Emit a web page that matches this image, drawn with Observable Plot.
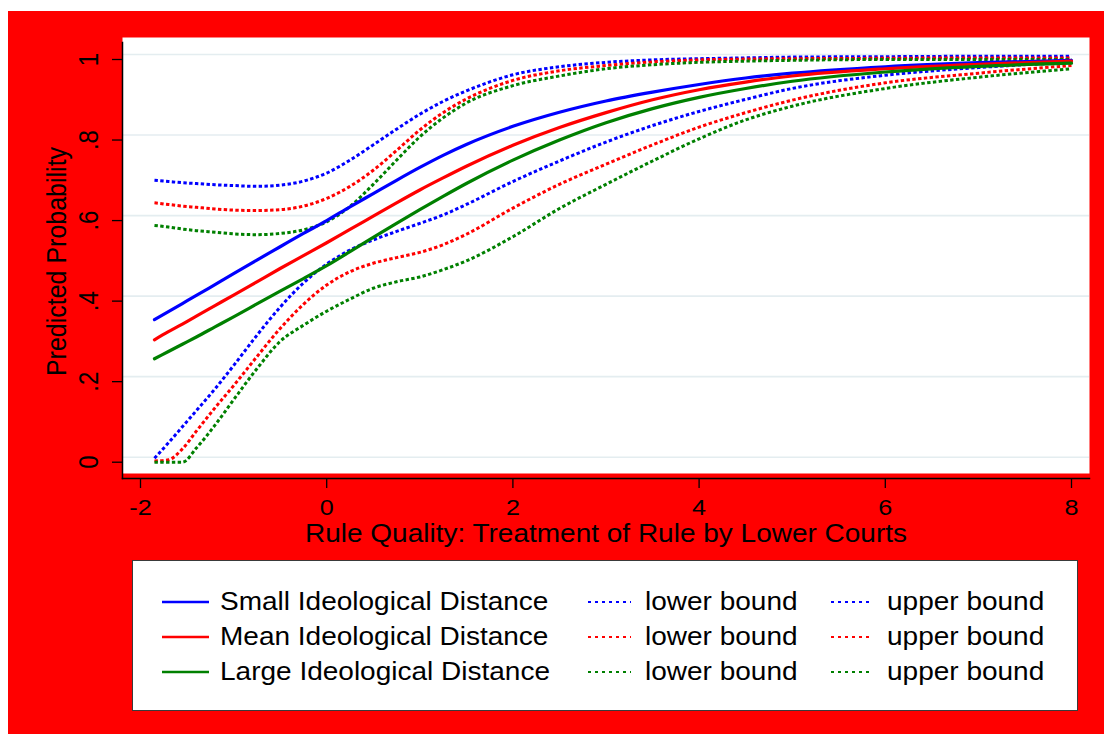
<!DOCTYPE html>
<html>
<head>
<meta charset="utf-8">
<script src="https://cdn.jsdelivr.net/npm/d3@7"></script>
<script src="https://cdn.jsdelivr.net/npm/@observablehq/plot@0.6"></script>
<style>
  html, body { margin: 0; padding: 0; background: #ffffff; }
  #panel { position: absolute; left: 8px; top: 11px; width: 1096px; height: 723px; background: #ff0000; overflow: hidden; }
  #chart { position: absolute; left: 0; top: 0; }
  #legend { position: absolute; left: 124px; top: 549px; width: 944px; height: 149px; background: #ffffff; border: 1px solid #3a3a3a; }
  .lg-text { position: absolute; font-family: "Liberation Sans", Arial, sans-serif; font-size: 25px; line-height: 25px; color: #000; white-space: nowrap; transform: scaleX(1.12); transform-origin: left center; }
  .lg-key { position: absolute; }
</style>
</head>
<body>
<div id="panel">
  <div id="chart"></div>
  <div id="legend"></div>
</div>
<script>
// Rule quality values at which the predictions were evaluated
const xValues = [-1.85, -1.7, -1.55, -1.4, -1.2, -1, -0.75, -0.5, -0.25, 0, 0.25, 0.5, 0.75, 1, 1.25, 1.5, 2, 2.5, 3, 3.5, 4, 4.5, 5, 6, 7, 8];

// Predicted probabilities and confidence bounds, small ideological distance
const smallFit   = [0.354, 0.374, 0.394, 0.414, 0.441, 0.468, 0.502, 0.535, 0.568, 0.600, 0.634, 0.667, 0.700, 0.732, 0.762, 0.789, 0.834, 0.869, 0.897, 0.919, 0.938, 0.954, 0.966, 0.982, 0.992, 0.998];
const smallLower = [0.010, 0.048, 0.088, 0.128, 0.182, 0.240, 0.315, 0.385, 0.445, 0.492, 0.527, 0.552, 0.573, 0.593, 0.614, 0.640, 0.697, 0.748, 0.795, 0.836, 0.871, 0.901, 0.928, 0.961, 0.980, 0.993];
const smallUpper = [0.700, 0.697, 0.694, 0.692, 0.689, 0.687, 0.685, 0.688, 0.698, 0.718, 0.750, 0.788, 0.827, 0.864, 0.896, 0.922, 0.962, 0.982, 0.993, 0.999, 1.002, 1.004, 1.006, 1.007, 1.008, 1.008];

// Mean ideological distance
const meanFit   = [0.304, 0.324, 0.343, 0.363, 0.389, 0.415, 0.448, 0.481, 0.513, 0.545, 0.578, 0.611, 0.644, 0.676, 0.706, 0.735, 0.787, 0.831, 0.868, 0.900, 0.925, 0.944, 0.959, 0.977, 0.988, 0.996];
const meanLower = [0.003, 0.006, 0.033, 0.077, 0.135, 0.190, 0.262, 0.332, 0.392, 0.440, 0.473, 0.494, 0.508, 0.521, 0.540, 0.566, 0.631, 0.690, 0.740, 0.788, 0.832, 0.868, 0.899, 0.942, 0.966, 0.985];
const meanUpper = [0.644, 0.640, 0.636, 0.633, 0.629, 0.626, 0.625, 0.627, 0.636, 0.655, 0.685, 0.725, 0.774, 0.825, 0.868, 0.902, 0.948, 0.972, 0.985, 0.994, 0.999, 1.001, 1.002, 1.003, 1.004, 1.004];

// Large ideological distance
const largeFit   = [0.257, 0.275, 0.293, 0.311, 0.336, 0.361, 0.393, 0.425, 0.456, 0.488, 0.523, 0.558, 0.593, 0.627, 0.660, 0.692, 0.750, 0.800, 0.843, 0.878, 0.906, 0.928, 0.946, 0.969, 0.983, 0.991];
const largeLower = [0.000, 0.000, 0.000, 0.035, 0.092, 0.155, 0.232, 0.300, 0.340, 0.375, 0.405, 0.432, 0.448, 0.460, 0.478, 0.500, 0.560, 0.630, 0.690, 0.748, 0.803, 0.850, 0.884, 0.928, 0.956, 0.977];
const largeUpper = [0.588, 0.584, 0.579, 0.575, 0.571, 0.567, 0.565, 0.568, 0.577, 0.597, 0.635, 0.690, 0.750, 0.808, 0.855, 0.892, 0.935, 0.959, 0.977, 0.987, 0.993, 0.996, 0.998, 1.000, 1.000, 1.000];

// Groups, colours and axis ticks
const groups = ["Small Ideological Distance", "Mean Ideological Distance", "Large Ideological Distance"];
const groupColors = ["#0000ff", "#ff0000", "#008000"];
const xTicks = [-2, 0, 2, 4, 6, 8];
const xTickLabels = ["-2", "0", "2", "4", "6", "8"];
const yTicks = [0, 0.2, 0.4, 0.6, 0.8, 1];
const yTickLabels = ["0", ".2", ".4", ".6", ".8", "1"];
const xTitle = "Rule Quality: Treatment of Rule by Lower Courts";
const yTitle = "Predicted Probability";
const boundLabels = ["lower bound", "upper bound"];

// Long table: one row per point, tagged with group and curve kind
const seriesByGroup = [
  {fit: smallFit, lower: smallLower, upper: smallUpper},
  {fit: meanFit, lower: meanLower, upper: meanUpper},
  {fit: largeFit, lower: largeLower, upper: largeUpper}
];
const rows = [];
seriesByGroup.forEach((s, gi) => {
  for (const kind of ["fit", "lower", "upper"]) {
    s[kind].forEach((p, i) => rows.push({x: xValues[i], p, group: groups[gi], kind, key: groups[gi] + " " + kind}));
  }
});
const fitRows = rows.filter(d => d.kind === "fit");
const boundRows = rows.filter(d => d.kind !== "fit");

const W = 1096, H = 545;
const chart = Plot.plot({
  width: W,
  height: H,
  marginTop: 26,
  marginBottom: H - 462,
  marginLeft: 114,
  marginRight: 15,
  style: {background: "transparent", fontFamily: "'Liberation Sans', Arial, sans-serif", fontSize: "22px", color: "#000", overflow: "visible"},
  x: {domain: [-2, 8], range: [132, 1063]},
  y: {domain: [0, 1], range: [450.7, 48]},
  color: {domain: groups, range: groupColors},
  marks: [
    Plot.frame({fill: "#ffffff", stroke: null}),
    Plot.gridY(yTicks, {stroke: "#e4edf0", strokeOpacity: 1, strokeWidth: 1.6, dy: -5}),
    Plot.line(boundRows, {x: "x", y: "p", z: "key", stroke: "group", strokeWidth: 3, strokeDasharray: "3.4,2.4", strokeLinecap: "butt", curve: "monotone-x"}),
    Plot.line(fitRows, {x: "x", y: "p", z: "key", stroke: "group", strokeWidth: 3.2, curve: "monotone-x"}),
    Plot.frame({anchor: "left", dy: 5, stroke: "#000", strokeWidth: 1.5}),
    Plot.frame({anchor: "bottom", dy: 5, stroke: "#000", strokeWidth: 1.5}),
    Plot.axisX({ticks: xTicks, tickSize: 10, tickPadding: 11, dy: 5, strokeWidth: 1.3, fontSize: 22.5, label: null,
      tickFormat: d => xTickLabels[xTicks.indexOf(d)]}),
    Plot.axisY({ticks: yTicks, tickSize: 10, strokeWidth: 1.3, label: null, tickFormat: () => ""}),
    Plot.text(yTicks, {y: d => d, text: (d, i) => yTickLabels[i], frameAnchor: "left", dx: -33, rotate: -90,
      textAnchor: "middle", lineAnchor: "middle", fontSize: 24}),
    Plot.text([yTitle], {frameAnchor: "left", dx: -65, dy: 6, rotate: -90, textAnchor: "middle", lineAnchor: "middle", fontSize: 25}),
    Plot.text([xTitle], {frameAnchor: "bottom", dy: 51, textAnchor: "middle", lineAnchor: "top", fontSize: 25})
  ]
});

// Glyphs in this chart are drawn slightly wide; stretch each label horizontally about its anchor
const STRETCH = 1.12;
chart.querySelectorAll("text").forEach(t => {
  let tr = t.getAttribute("transform");
  if (!tr) {
    const x = t.getAttribute("x") || 0, y = t.getAttribute("y") || 0;
    t.removeAttribute("x"); t.removeAttribute("y");
    tr = `translate(${x},${y})`;
  }
  const rotated = /rotate\(\s*-?90\s*\)/.test(tr);
  t.setAttribute("transform", tr + (rotated ? ` scale(1,${STRETCH})` : ` scale(${STRETCH},1)`));
});
document.getElementById("chart").appendChild(chart);

// Legend: one row per group, with the fitted line and its two bounds
const legend = document.getElementById("legend");
const rowY = [41, 76, 111];
const keyX = [29, 455, 698];
const keyW = [47, 43, 42];
const textX = [87, 512, 754];
function key(left, top, width, color, dashed) {
  const ns = "http://www.w3.org/2000/svg";
  const s = document.createElementNS(ns, "svg");
  s.setAttribute("class", "lg-key");
  s.setAttribute("width", width);
  s.setAttribute("height", 6);
  s.style.left = left + "px";
  s.style.top = (top - 3) + "px";
  const l = document.createElementNS(ns, "line");
  l.setAttribute("x1", 0); l.setAttribute("x2", width);
  l.setAttribute("y1", 3); l.setAttribute("y2", 3);
  l.setAttribute("stroke", color);
  l.setAttribute("stroke-width", dashed ? 2.2 : 2.4);
  if (dashed) l.setAttribute("stroke-dasharray", "3,4");
  s.appendChild(l);
  legend.appendChild(s);
}
function label(left, top, text) {
  const d = document.createElement("div");
  d.className = "lg-text";
  d.style.left = left + "px";
  d.style.top = (top - 13) + "px";
  d.textContent = text;
  legend.appendChild(d);
}
groups.forEach((g, i) => {
  key(keyX[0], rowY[i], keyW[0], groupColors[i], false);
  label(textX[0], rowY[i], g);
  key(keyX[1], rowY[i], keyW[1], groupColors[i], true);
  label(textX[1], rowY[i], boundLabels[0]);
  key(keyX[2], rowY[i], keyW[2], groupColors[i], true);
  label(textX[2], rowY[i], boundLabels[1]);
});
</script>
</body>
</html>
